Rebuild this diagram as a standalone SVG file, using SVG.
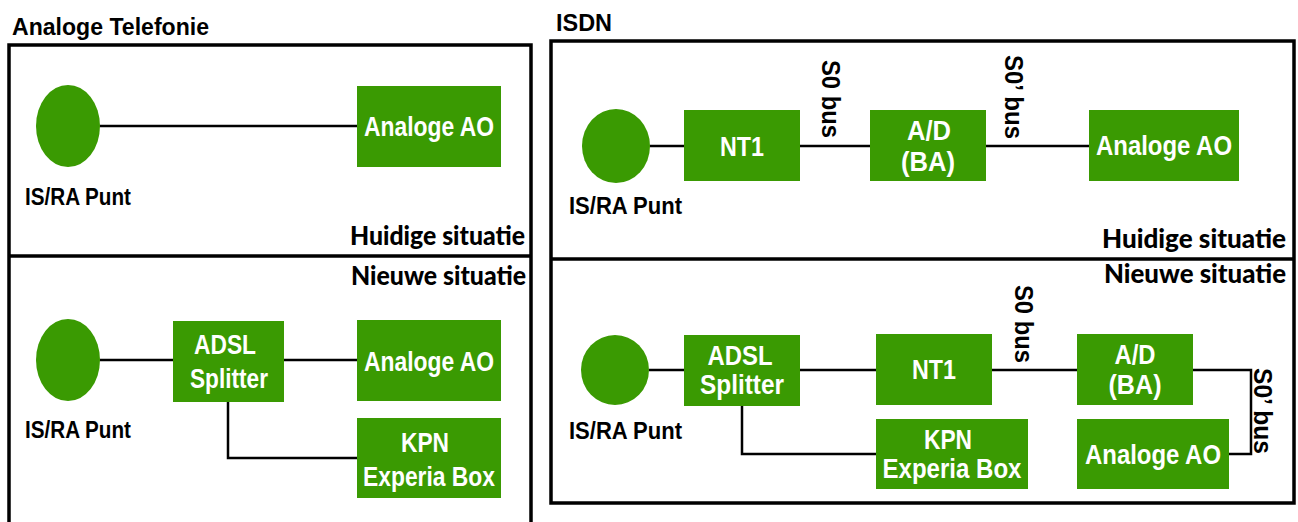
<svg xmlns="http://www.w3.org/2000/svg" width="1298" height="522" viewBox="0 0 1298 522">
<style>
.frame{fill:none;stroke:#000;stroke-width:3.5}
.box{fill:#3a9a02}
.pt{fill:#3a9a02}
.lbl{font-family:"Liberation Sans",Arial,sans-serif;font-weight:bold;font-size:28px;fill:#fff;text-anchor:middle}
.blk{font-family:"Liberation Sans",Arial,sans-serif;font-weight:bold;font-size:24px;fill:#000}
.sit{font-family:Lato,"Open Sans",sans-serif;font-weight:900;font-size:27px;fill:#000;text-anchor:end}
.bus{font-family:"Liberation Sans",Arial,sans-serif;font-weight:bold;font-size:25px;fill:#000}
.wire{fill:none;stroke:#000;stroke-width:2.5}
</style>
<rect width="1298" height="522" fill="#fff"/>
<g id="frames">
<rect class="frame" x="9" y="45" width="522" height="490"/>
<line class="frame" x1="9" y1="256" x2="531" y2="256"/>
<rect class="frame" x="551" y="41" width="743" height="462"/>
<line class="frame" x1="551" y1="259" x2="1294" y2="259"/>
</g>
<g id="titles">
<text class="blk" x="12" y="35" textLength="197" lengthAdjust="spacingAndGlyphs">Analoge Telefonie</text>
<text class="blk" x="556" y="31" textLength="56" lengthAdjust="spacingAndGlyphs">ISDN</text>
<text class="sit" x="525" y="245" textLength="175" lengthAdjust="spacingAndGlyphs">Huidige situatie</text>
<text class="sit" x="526" y="285" textLength="175" lengthAdjust="spacingAndGlyphs">Nieuwe situatie</text>
<text class="sit" x="1286" y="248" textLength="184" lengthAdjust="spacingAndGlyphs">Huidige situatie</text>
<text class="sit" x="1286" y="283" textLength="182" lengthAdjust="spacingAndGlyphs">Nieuwe situatie</text>
</g>
<g id="connectors">
<line class="wire" x1="100" y1="126" x2="357" y2="126"/>
<line class="wire" x1="100" y1="360" x2="173" y2="360"/>
<line class="wire" x1="284" y1="360" x2="357" y2="360"/>
<polyline class="wire" points="228,402 228,458 357,458"/>
<line class="wire" x1="650" y1="146" x2="684" y2="146"/>
<line class="wire" x1="800" y1="146" x2="870" y2="146"/>
<line class="wire" x1="986" y1="146" x2="1089" y2="146"/>
<line class="wire" x1="649" y1="370" x2="684" y2="370"/>
<line class="wire" x1="800" y1="370" x2="876" y2="370"/>
<line class="wire" x1="992" y1="370" x2="1077" y2="370"/>
<polyline class="wire" points="1193,370 1251,370 1251,454 1228,454"/>
<polyline class="wire" points="742,405 742,454 876,454"/>
<text class="bus" transform="translate(822,60) rotate(90)" textLength="78" lengthAdjust="spacingAndGlyphs">S0 bus</text>
<text class="bus" transform="translate(1005,55) rotate(90)" textLength="84" lengthAdjust="spacingAndGlyphs">S0’ bus</text>
<text class="bus" transform="translate(1015,285) rotate(90)" textLength="78" lengthAdjust="spacingAndGlyphs">S0 bus</text>
<text class="bus" transform="translate(1254,368) rotate(90)" textLength="86" lengthAdjust="spacingAndGlyphs">S0’ bus</text>
</g>
<g id="at-ispunt">
<ellipse class="pt" cx="68" cy="126" rx="32" ry="41"/>
<text class="blk" x="25" y="205" textLength="106" lengthAdjust="spacingAndGlyphs">IS/RA Punt</text>
</g>
<g id="at-ao">
<rect class="box" x="357" y="86" width="144" height="81"/>
<text class="lbl" x="429" y="136" textLength="130" lengthAdjust="spacingAndGlyphs">Analoge AO</text>
</g>
<g id="an-ispunt">
<ellipse class="pt" cx="68" cy="360" rx="32" ry="41"/>
<text class="blk" x="25" y="438" textLength="106" lengthAdjust="spacingAndGlyphs">IS/RA Punt</text>
</g>
<g id="an-splitter">
<rect class="box" x="173" y="321" width="111" height="81"/>
<text class="lbl" x="225" y="354" textLength="62" lengthAdjust="spacingAndGlyphs">ADSL</text>
<text class="lbl" x="229" y="388" textLength="78" lengthAdjust="spacingAndGlyphs">Splitter</text>
</g>
<g id="an-ao">
<rect class="box" x="357" y="320" width="144" height="81"/>
<text class="lbl" x="429" y="371" textLength="130" lengthAdjust="spacingAndGlyphs">Analoge AO</text>
</g>
<g id="an-kpn">
<rect class="box" x="357" y="418" width="144" height="80"/>
<text class="lbl" x="425" y="452" textLength="48" lengthAdjust="spacingAndGlyphs">KPN</text>
<text class="lbl" x="429" y="486" textLength="132" lengthAdjust="spacingAndGlyphs">Experia Box</text>
</g>
<g id="is-ispunt">
<ellipse class="pt" cx="616" cy="146" rx="34" ry="37"/>
<text class="blk" x="569" y="214" textLength="113" lengthAdjust="spacingAndGlyphs">IS/RA Punt</text>
</g>
<g id="is-nt1">
<rect class="box" x="684" y="110" width="116" height="71"/>
<text class="lbl" x="742" y="156" textLength="44" lengthAdjust="spacingAndGlyphs">NT1</text>
</g>
<g id="is-ad">
<rect class="box" x="870" y="110" width="116" height="71"/>
<text class="lbl" x="929" y="140" textLength="44" lengthAdjust="spacingAndGlyphs">A/D</text>
<text class="lbl" x="928" y="171" textLength="54" lengthAdjust="spacingAndGlyphs">(BA)</text>
</g>
<g id="is-ao">
<rect class="box" x="1089" y="110" width="150" height="71"/>
<text class="lbl" x="1164" y="155" textLength="136" lengthAdjust="spacingAndGlyphs">Analoge AO</text>
</g>
<g id="isn-ispunt">
<ellipse class="pt" cx="615" cy="370" rx="34" ry="35"/>
<text class="blk" x="569" y="439" textLength="113" lengthAdjust="spacingAndGlyphs">IS/RA Punt</text>
</g>
<g id="isn-splitter">
<rect class="box" x="684" y="335" width="116" height="71"/>
<text class="lbl" x="740" y="365" textLength="65" lengthAdjust="spacingAndGlyphs">ADSL</text>
<text class="lbl" x="742" y="394" textLength="84" lengthAdjust="spacingAndGlyphs">Splitter</text>
</g>
<g id="isn-nt1">
<rect class="box" x="876" y="334" width="116" height="71"/>
<text class="lbl" x="934" y="379" textLength="44" lengthAdjust="spacingAndGlyphs">NT1</text>
</g>
<g id="isn-ad">
<rect class="box" x="1077" y="334" width="116" height="71"/>
<text class="lbl" x="1135" y="364" textLength="41" lengthAdjust="spacingAndGlyphs">A/D</text>
<text class="lbl" x="1135" y="394" textLength="53" lengthAdjust="spacingAndGlyphs">(BA)</text>
</g>
<g id="isn-kpn">
<rect class="box" x="876" y="419" width="152" height="70"/>
<text class="lbl" x="948" y="449" textLength="48" lengthAdjust="spacingAndGlyphs">KPN</text>
<text class="lbl" x="952" y="478" textLength="139" lengthAdjust="spacingAndGlyphs">Experia Box</text>
</g>
<g id="isn-ao">
<rect class="box" x="1077" y="419" width="152" height="70"/>
<text class="lbl" x="1153" y="464" textLength="136" lengthAdjust="spacingAndGlyphs">Analoge AO</text>
</g>
</svg>
